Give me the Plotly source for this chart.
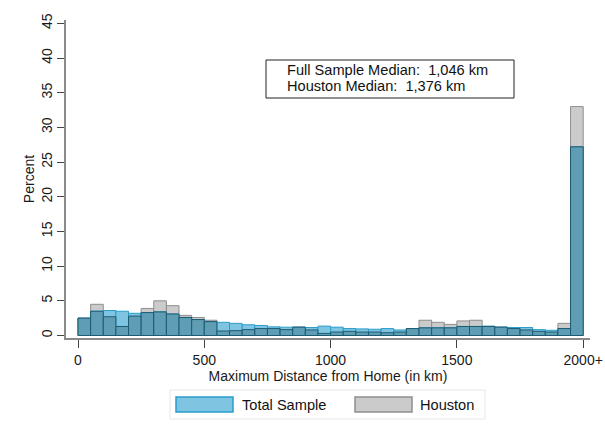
import plotly.graph_objects as go

# Histogram bins (left edges, km); last bin is top-coded "2000+"
bin_left = list(range(0, 2000, 50))
bin_width = 50

total_pct = [2.5, 3.5, 3.6, 3.5, 3.2, 3.3, 3.4, 3.1, 2.6, 2.3,
             2.0, 1.9, 1.75, 1.55, 1.45, 1.25, 1.2, 1.2, 1.15, 1.35,
             1.2, 1.0, 0.95, 0.9, 1.0, 0.8, 1.0, 1.1, 1.1, 1.1,
             1.3, 1.3, 1.35, 1.2, 1.15, 1.15, 0.85, 0.75, 1.0, 27.2]

houston_pct = [2.5, 4.5, 2.7, 1.3, 2.8, 3.9, 5.0, 4.3, 2.9, 2.6,
               2.2, 0.65, 0.7, 0.85, 1.0, 1.0, 0.85, 1.2, 0.8, 0.3,
               0.5, 0.6, 0.5, 0.5, 0.4, 0.5, 1.0, 2.2, 1.9, 1.6,
               2.1, 2.2, 1.3, 1.2, 1.0, 0.8, 0.6, 0.5, 1.75, 33.0]

overlap_pct = [min(a, b) for a, b in zip(total_pct, houston_pct)]

x_tickvals = [0, 500, 1000, 1500, 2000]
x_ticktext = ["0", "500", "1000", "1500", "2000+"]
y_tickvals = [0, 5, 10, 15, 20, 25, 30, 35, 40, 45]

median_lines = ["Full Sample Median:&nbsp; 1,046 km", "Houston Median:&nbsp; 1,376 km"]
series_names = ["Total Sample", "Houston"]

FONT = "Liberation Sans, Arial, sans-serif"
TOTAL_FILL, TOTAL_EDGE = "#7fc5e1", "#2a9dcc"
HOU_FILL, HOU_EDGE = "#cbcbcb", "#8e8e8e"

# plot area: left 66, right 590, top 20, bottom 338 (px)
PW, PH = 524.0, 318.0
def px(x):
    return (x - 66) / PW
def py(y):
    return (338 - y) / PH

fig = go.Figure()
fig.add_trace(go.Bar(
    x=bin_left, y=houston_pct, offset=0, width=bin_width, name=series_names[1],
    marker=dict(color=HOU_FILL, line=dict(color=HOU_EDGE, width=1)),
    showlegend=False,
))
fig.add_trace(go.Bar(
    x=bin_left, y=total_pct, offset=0, width=bin_width, name=series_names[0],
    marker=dict(color=TOTAL_FILL, line=dict(color=TOTAL_EDGE, width=1)),
    showlegend=False,
))
fig.add_trace(go.Bar(
    x=bin_left, y=overlap_pct, offset=0, width=bin_width, name="overlap",
    marker=dict(color="#5f9db4", line=dict(color="#1d5b72", width=1)),
    showlegend=False,
))

shapes = [
    # median text box
    dict(type="rect", xref="paper", yref="paper", x0=px(266), x1=px(514),
         y0=py(98), y1=py(60), line=dict(color="#222", width=1), fillcolor="white",
         layer="above"),
    # legend frame
    dict(type="rect", xref="paper", yref="paper", x0=px(170), x1=px(485),
         y0=py(419), y1=py(390), line=dict(color="#e3e9ee", width=1),
         fillcolor="white"),
    # legend swatches
    dict(type="rect", xref="paper", yref="paper", x0=px(176), x1=px(233),
         y0=py(412), y1=py(397), line=dict(color=TOTAL_EDGE, width=1.5),
         fillcolor=TOTAL_FILL),
    dict(type="rect", xref="paper", yref="paper", x0=px(355), x1=px(412),
         y0=py(412), y1=py(397), line=dict(color=HOU_EDGE, width=1.5),
         fillcolor=HOU_FILL),
]

annotations = [
    dict(x=px(285), y=py(70), xref="paper", yref="paper", xanchor="left",
         yanchor="middle", text=median_lines[0], showarrow=False,
         font=dict(size=14.6, color="#111")),
    dict(x=px(285), y=py(86), xref="paper", yref="paper", xanchor="left",
         yanchor="middle", text=median_lines[1], showarrow=False,
         font=dict(size=14.6, color="#111")),
    dict(x=px(240), y=py(404.5), xref="paper", yref="paper", xanchor="left",
         yanchor="middle", text=series_names[0], showarrow=False,
         font=dict(size=14.6, color="#111")),
    dict(x=px(418), y=py(404.5), xref="paper", yref="paper", xanchor="left",
         yanchor="middle", text=series_names[1], showarrow=False,
         font=dict(size=14.6, color="#111")),
]

fig.update_layout(
    width=605, height=432,
    barmode="overlay",
    paper_bgcolor="white", plot_bgcolor="white",
    margin=dict(l=66, r=15, t=20, b=94),
    font=dict(family=FONT, size=14, color="#1a1a1a"),
    showlegend=False,
    xaxis=dict(
        range=[-47.5, 2027], showgrid=False, zeroline=False, automargin=False,
        showline=True, linecolor="#8a8a8a", linewidth=1.5,
        ticks="outside", ticklen=8, tickcolor="#444",
        tickvals=x_tickvals, ticktext=x_ticktext,
        title=dict(text="Maximum Distance from Home (in km)", standoff=2,
                   font=dict(size=14)),
        tickfont=dict(size=14),
    ),
    yaxis=dict(
        range=[-0.36, 45.48], showgrid=False, zeroline=False, automargin=False,
        showline=True, linecolor="#8a8a8a", linewidth=1.5,
        ticks="outside", ticklen=7, tickcolor="#444",
        tickvals=y_tickvals, tickangle=-90,
        title=dict(text="Percent", standoff=1, font=dict(size=14)),
        tickfont=dict(size=14),
    ),
    shapes=shapes,
    annotations=annotations,
)

fig.write_html("out.html",
               config={"displayModeBar": False},
               post_script="document.body.style.margin='0';document.body.style.overflow='hidden';")
